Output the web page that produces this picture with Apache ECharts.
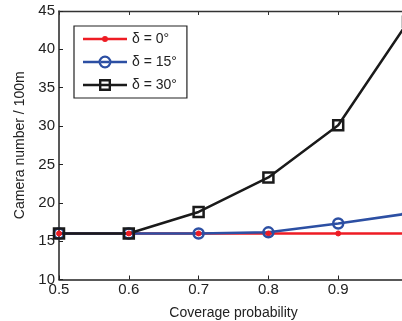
<!DOCTYPE html>
<html><head><meta charset="utf-8">
<script src="https://cdn.jsdelivr.net/npm/echarts@6/dist/echarts.min.js"></script>
<style>html,body{margin:0;padding:0;background:#fff}#c{width:402px;height:321px}</style>
</head><body><div id="c"></div>
<script>
const xValues = [0.5, 0.6, 0.7, 0.8, 0.9, 1.0];
const delta0 = [16, 16, 16, 16, 16, 16];
const delta15 = [16, 16, 16, 16.15, 17.3, 18.6];
const delta30 = [16, 16, 18.8, 23.3, 30.1, 43.6];
const seriesNames = ['δ = 0°', 'δ = 15°', 'δ = 30°'];
const yTicks = {min: 10, max: 45, interval: 5};
const xTicks = {min: 0.5, max: 1.0, interval: 0.1};

const font = 'Liberation Sans, Arial, Helvetica, sans-serif';
const axisColor = '#222';
const colors = ['#ee1c24', '#2c4fa3', '#1a1a1a'];
function pairs(v){ return xValues.map((x,i)=>[x, v[i]]); }

// legend icons (44x14 box): line + marker
const B = 'M0 0 M44 14 ';
const iconRed = 'path://' + B + 'M0 5.8 H19.2 V8.2 H0 Z M24.8 5.8 H44 V8.2 H24.8 Z M25 7 A3 3 0 1 1 19 7 A3 3 0 1 1 25 7 Z';
const iconBlue = 'path://' + B + 'M0 5.8 H15.6 V8.2 H0 Z M28.4 5.8 H44 V8.2 H28.4 Z M18 5.8 H26 V8.2 H18 Z ' +
  'M28.5 7 A6.5 6.5 0 1 1 15.5 7 A6.5 6.5 0 1 1 28.5 7 Z M26.2 7 A4.2 4.2 0 1 0 17.8 7 A4.2 4.2 0 1 0 26.2 7 Z';
const iconBlack = 'path://' + B + 'M0 5.8 H16 V8.2 H0 Z M28 5.8 H44 V8.2 H28 Z M18.4 5.8 H25.6 V8.2 H18.4 Z ' +
  'M16 1 H28 V13 H16 Z M18.4 3.4 V10.6 H25.6 V3.4 Z';

const chart = echarts.init(document.getElementById('c'), null, {renderer:'canvas'});
chart.setOption({
  animation: false,
  backgroundColor: '#fff',
  grid: {left: 59, top: 11, right: -6, bottom: 41.5, containLabel: false, outerBoundsMode: 'none'},
  legend: {
    left: 74, top: 26, orient: 'vertical',
    data: [
      {name: seriesNames[0], icon: iconRed, itemStyle: {color: colors[0], borderWidth: 0}},
      {name: seriesNames[1], icon: iconBlue, itemStyle: {color: colors[1], borderWidth: 0}},
      {name: seriesNames[2], icon: iconBlack, itemStyle: {color: colors[2], borderWidth: 0}}
    ],
    itemWidth: 44, itemHeight: 14, itemGap: 9,
    padding: [6, 10, 6, 9],
    borderColor: '#222', borderWidth: 1.2, backgroundColor: '#fff',
    textStyle: {fontFamily: font, fontSize: 14, color: '#222'}
  },
  xAxis: [{
    type: 'value', min: xTicks.min, max: xTicks.max, interval: xTicks.interval,
    name: 'Coverage probability', nameLocation: 'middle', nameGap: 27,
    nameTextStyle: {fontFamily: font, fontSize: 14, color: '#222'},
    axisLine: {show: true, onZero: false, lineStyle: {color: axisColor, width: 1.5}},
    axisTick: {show: true, inside: true, length: 4, lineStyle: {color: axisColor}},
    axisLabel: {fontFamily: font, fontSize: 15, color: '#222', margin: 3, showMaxLabel: false,
      formatter: v => v.toFixed(1)},
    splitLine: {show: false}
  }, {
    type: 'value', position: 'top', min: xTicks.min, max: xTicks.max, interval: xTicks.interval,
    axisLine: {show: true, onZero: false, lineStyle: {color: '#333', width: 1.3}},
    axisTick: {show: true, inside: true, length: 4, lineStyle: {color: '#333'}},
    axisLabel: {show: false}, splitLine: {show: false}
  }],
  yAxis: {
    type: 'value', min: yTicks.min, max: yTicks.max, interval: yTicks.interval,
    name: 'Camera number / 100m', nameLocation: 'middle', nameGap: 24,
    nameTextStyle: {fontFamily: font, fontSize: 14, color: '#222'},
    axisLine: {show: true, onZero: false, lineStyle: {color: axisColor, width: 1.5}},
    axisTick: {show: true, inside: true, length: 4, lineStyle: {color: axisColor}},
    axisLabel: {fontFamily: font, fontSize: 15, color: '#222', margin: 4},
    splitLine: {show: false}
  },
  series: [
    {name: seriesNames[0], type: 'line', data: pairs(delta0), symbol: 'circle', symbolSize: 5,
      lineStyle: {color: colors[0], width: 2.5}, itemStyle: {color: colors[0], borderColor: colors[0], borderWidth: 1}},
    {name: seriesNames[1], type: 'line', data: pairs(delta15), symbol: 'circle', symbolSize: 10,
      lineStyle: {color: colors[1], width: 2.5}, itemStyle: {color: 'rgba(255,255,255,0)', borderColor: colors[1], borderWidth: 2.5}},
    {name: seriesNames[2], type: 'line', data: pairs(delta30), symbol: 'rect', symbolSize: 10,
      lineStyle: {color: colors[2], width: 2.5}, itemStyle: {color: 'rgba(255,255,255,0)', borderColor: colors[2], borderWidth: 2.5}}
  ]
});
</script></body></html>
